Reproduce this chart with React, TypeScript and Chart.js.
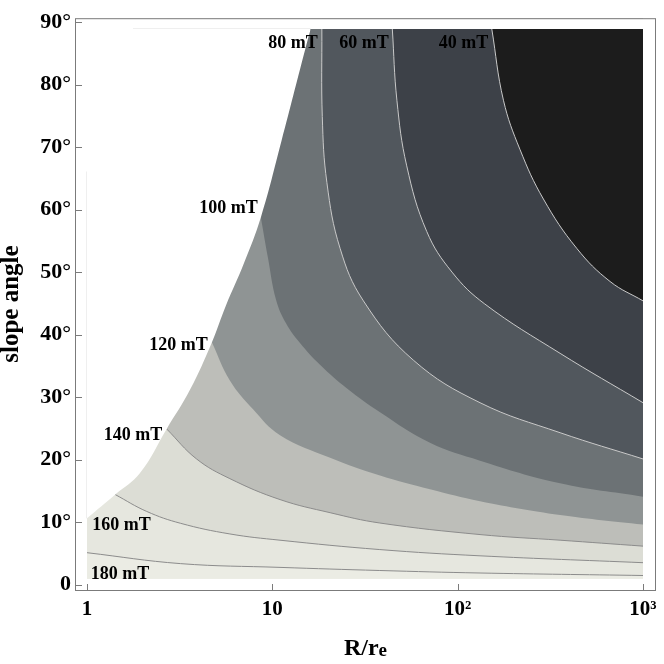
import React, { useEffect, useRef } from "react";
import { Chart, registerables } from "chart.js";

Chart.register(...registerables);

// ---------- data ----------
const LEVELS = [180, 160, 140, 120, 100, 80, 60, 40];

const C180_X = [1, 3.2, 11, 38, 132, 1000];
const C180_Y = [5.1, 3.35, 2.75, 2.25, 1.85, 1.45];

const C160_X = [1.42, 2.1, 3.2, 5.9, 11, 38, 132, 1000];
const C160_Y = [14.4, 11.7, 9.8, 8.1, 7.1, 5.6, 4.6, 3.5];

const C140_X = [2.69, 3.9, 5.9, 11, 20.5, 38, 132, 357, 1000];
const C140_Y = [24.9, 20.1, 16.95, 13.6, 11.5, 9.85, 8.0, 7.1, 6.15];

const C120_X = [4.71, 5.91, 7.87, 11, 20.5, 38.1, 70.9, 132, 357, 1000];
const C120_Y = [38.8, 32.6, 28.05, 23.9, 20.3, 17.46, 15.25, 13.35, 11.14, 9.6];

const C100_X = [8.69, 9.48, 10.47, 11.85, 14.1, 18.08, 25.3, 38.1, 70.9, 132, 357, 1000];
const C100_Y = [58.55, 52.23, 45.59, 41.8, 38.64, 35.16, 31.37, 27.57, 22.68, 19.83, 16.2, 14.06];

const C80_X = [18.5, 18.6, 19.7, 23.2, 31, 57.7, 132, 357, 1000];
const C80_Y = [88.9, 74.9, 64.3, 53.8, 45.4, 35.9, 29.1, 24.3, 20.1];

const C60_X = [44.4, 47, 53.1, 68.1, 93.2, 140, 357, 1000];
const C60_Y = [88.9, 77.5, 67, 56.5, 50.0, 44.9, 37, 29.1];

const C40_X = [152.8, 176.6, 217, 290, 439, 664, 1000];
const C40_Y = [88.9, 77.5, 69.6, 61.7, 53.8, 48.5, 45.4];

// left edge of the computed domain (white outside)
const BOUNDARY_X = [1, 1.42, 1.932, 2.69, 3.6, 4.71, 5.62, 7.0, 8.69, 11.21, 15, 16.1];
const BOUNDARY_Y = [10.6, 14.4, 17.85, 24.9, 31.2, 38.7, 44.64, 51.28, 58.87, 71.03, 85.5, 88.9];

const DOMAIN_X = [1, 1000];
const DOMAIN_BOTTOM = 0.9;
const DOMAIN_TOP = 88.9;

// faint mesh edges visible in the white area
const MESH_LEFT_Y = [10.6, 66.1];
const MESH_TOP_X = [1.77, 16.1];

const X_TICKS = [1, 10, 100, 1000];
const X_TICK_LABELS = ["1", "10", "10²", "10³"];
const Y_TICKS = [0, 10, 20, 30, 40, 50, 60, 70, 80, 90];
const Y_TICK_LABELS = ["0", "10°", "20°", "30°", "40°", "50°", "60°", "70°", "80°", "90°"];

const LABEL_TEXT = ["180 mT", "160 mT", "140 mT", "120 mT", "100 mT", "80 mT", "60 mT", "40 mT"];
const LABEL_X = [1.507, 1.536, 1.771, 3.12, 5.8, 12.93, 31.2, 107.5];
const LABEL_Y = [1.66, 9.4, 23.94, 38.24, 60.2, 86.68, 86.68, 86.68];

const X_TITLE_MAIN = "R/r";
const X_TITLE_SUB = "e";
const Y_TITLE = "slope angle";

const CONTOURS_X = [C180_X, C160_X, C140_X, C120_X, C100_X, C80_X, C60_X, C40_X];
const CONTOURS_Y = [C180_Y, C160_Y, C140_Y, C120_Y, C100_Y, C80_Y, C60_Y, C40_Y];

// ---------- styles ----------
const BASE_FILL = "#ebece4";
const BAND_FILL = ["#e6e7df", "#dcddd5", "#bdbeb9", "#8f9494", "#6c7275", "#51575d", "#3d4148", "#1c1c1c"];
const LINE_COLOR = ["#8c8c8c", "#8c8c8c", "#8c8c8c", "rgba(0,0,0,0)", "rgba(0,0,0,0)", "#c9c9c9", "#c9c9c9", "#c9c9c9"];
const LINE_WIDTH = [1, 1, 1, 0, 0, 1, 1, 1];
const TENSION = 0.4;
const FRAME = "#7b7b7b";
const MESH = "#efefef";
const SERIF = '"Liberation Serif", "Times New Roman", serif';

const pts = (xs: number[], ys: number[]) => xs.map((x, i) => ({ x, y: ys[i] }));

const decor = {
  id: "decor",
  afterDatasetsDraw(chart: any) {
    const { ctx, chartArea: ca, scales } = chart;
    const xs = scales.x;
    const ys = scales.y;
    ctx.save();
    // white margins outside the computed domain
    ctx.fillStyle = "#ffffff";
    const xl = xs.getPixelForValue(DOMAIN_X[0]);
    const xr = xs.getPixelForValue(DOMAIN_X[1]);
    const yt = ys.getPixelForValue(DOMAIN_TOP);
    const yb = ys.getPixelForValue(DOMAIN_BOTTOM);
    ctx.fillRect(ca.left, ca.top, ca.right - ca.left, yt - ca.top);
    ctx.fillRect(ca.left, yb, ca.right - ca.left, ca.bottom - yb);
    ctx.fillRect(ca.left, ca.top, xl - ca.left, ca.bottom - ca.top);
    ctx.fillRect(xr, ca.top, ca.right - xr, ca.bottom - ca.top);

    // faint mesh edges
    ctx.strokeStyle = MESH;
    ctx.lineWidth = 1;
    ctx.beginPath();
    const mx = Math.round(xl) - 0.5;
    ctx.moveTo(mx, ys.getPixelForValue(MESH_LEFT_Y[0]));
    ctx.lineTo(mx, ys.getPixelForValue(MESH_LEFT_Y[1]));
    const my = Math.round(yt) - 0.5;
    ctx.moveTo(xs.getPixelForValue(MESH_TOP_X[0]), my);
    ctx.lineTo(xs.getPixelForValue(MESH_TOP_X[1]), my);
    ctx.stroke();

    // frame
    ctx.strokeStyle = FRAME;
    ctx.lineWidth = 1;
    ctx.strokeRect(ca.left - 0.5, ca.top + 0.5, ca.right - ca.left + 1, ca.bottom - ca.top);

    // inward tick marks
    ctx.beginPath();
    Y_TICKS.forEach((v) => {
      const p = Math.round(ys.getPixelForValue(v)) + 0.5;
      ctx.moveTo(ca.left - 0.5, p);
      ctx.lineTo(ca.left + 6, p);
    });
    X_TICKS.forEach((v) => {
      const p = Math.round(xs.getPixelForValue(v)) + 0.5;
      ctx.moveTo(p, ca.bottom + 0.5);
      ctx.lineTo(p, ca.bottom - 6);
    });
    ctx.stroke();

    // contour labels
    ctx.fillStyle = "#000";
    ctx.font = `bold 18px ${SERIF}`;
    ctx.textAlign = "center";
    ctx.textBaseline = "middle";
    LABEL_TEXT.forEach((t, i) => {
      ctx.fillText(t, xs.getPixelForValue(LABEL_X[i]), ys.getPixelForValue(LABEL_Y[i]));
    });

    // x axis title R/r_e
    const cx = (ca.left + ca.right) / 2;
    ctx.textAlign = "left";
    ctx.textBaseline = "alphabetic";
    ctx.font = `bold 24px ${SERIF}`;
    const w1 = ctx.measureText(X_TITLE_MAIN).width;
    ctx.font = `bold 19px ${SERIF}`;
    const w2 = ctx.measureText(X_TITLE_SUB).width;
    const x0 = cx - (w1 + w2) / 2;
    ctx.font = `bold 24px ${SERIF}`;
    ctx.fillText(X_TITLE_MAIN, x0, 655);
    ctx.font = `bold 19px ${SERIF}`;
    ctx.fillText(X_TITLE_SUB, x0 + w1, 656);

    // y axis title
    ctx.save();
    ctx.translate(12, (ca.top + ca.bottom) / 2);
    ctx.rotate(-Math.PI / 2);
    ctx.textAlign = "center";
    ctx.textBaseline = "middle";
    ctx.font = `bold 25px ${SERIF}`;
    ctx.fillText(Y_TITLE, 0, 0);
    ctx.restore();

    ctx.restore();
  },
};

export default function App() {
  const ref = useRef<HTMLCanvasElement | null>(null);

  useEffect(() => {
    if (!ref.current) return;
    const datasets: any[] = [];
    datasets.push({
      label: "outside",
      data: pts(BOUNDARY_X, BOUNDARY_Y),
      showLine: true,
      fill: "end",
      backgroundColor: "#ffffff",
      borderWidth: 0,
      borderColor: "rgba(0,0,0,0)",
      pointRadius: 0,
      tension: TENSION,
      order: 0,
    });
    LEVELS.forEach((lvl, i) => {
      datasets.push({
        label: `${lvl} mT`,
        data: pts(CONTOURS_X[i], CONTOURS_Y[i]),
        showLine: true,
        fill: "end",
        backgroundColor: BAND_FILL[i],
        borderColor: LINE_COLOR[i],
        borderWidth: LINE_WIDTH[i],
        pointRadius: 0,
        tension: TENSION,
        order: 10 - i,
      });
    });
    datasets.push({
      label: "domain",
      data: pts(DOMAIN_X, [DOMAIN_BOTTOM, DOMAIN_BOTTOM]),
      showLine: true,
      fill: "end",
      backgroundColor: BASE_FILL,
      borderWidth: 0,
      borderColor: "rgba(0,0,0,0)",
      pointRadius: 0,
      order: 20,
    });

    const chart = new Chart(ref.current, {
      type: "scatter",
      data: { datasets },
      options: {
        responsive: false,
        animation: false,
        events: [],
        layout: { padding: { top: 11, right: 9, left: 0, bottom: 0 } },
        plugins: { legend: { display: false }, tooltip: { enabled: false } },
        scales: {
          x: {
            type: "logarithmic",
            min: 0.8722,
            max: 1160.6,
            afterBuildTicks: (s: any) => {
              s.ticks = X_TICKS.map((v) => ({ value: v }));
            },
            afterFit: (s: any) => {
              s.height = 74;
            },
            grid: { display: false, drawTicks: false },
            border: { display: false },
            ticks: {
              autoSkip: false,
              maxRotation: 0,
              padding: 7,
              color: "#000",
              font: { family: SERIF, size: 21, weight: "bold" },
              callback: (_v: any, i: number) => X_TICK_LABELS[i],
            },
          },
          y: {
            type: "linear",
            min: -0.87,
            max: 90.63,
            afterBuildTicks: (s: any) => {
              s.ticks = Y_TICKS.map((v) => ({ value: v }));
            },
            afterFit: (s: any) => {
              s.width = 76;
            },
            grid: { display: false, drawTicks: false },
            border: { display: false },
            ticks: {
              autoSkip: false,
              padding: 5,
              color: "#000",
              font: { family: SERIF, size: 22, weight: "bold" },
              callback: (_v: any, i: number) => Y_TICK_LABELS[i],
            },
          },
        },
      },
      plugins: [decor],
    });
    return () => chart.destroy();
  }, []);

  return (
    <div style={{ position: "fixed", left: 0, top: 0, width: 664, height: 664, background: "#fff" }}>
      <canvas ref={ref} width={664} height={664} style={{ display: "block" }} />
    </div>
  );
}
